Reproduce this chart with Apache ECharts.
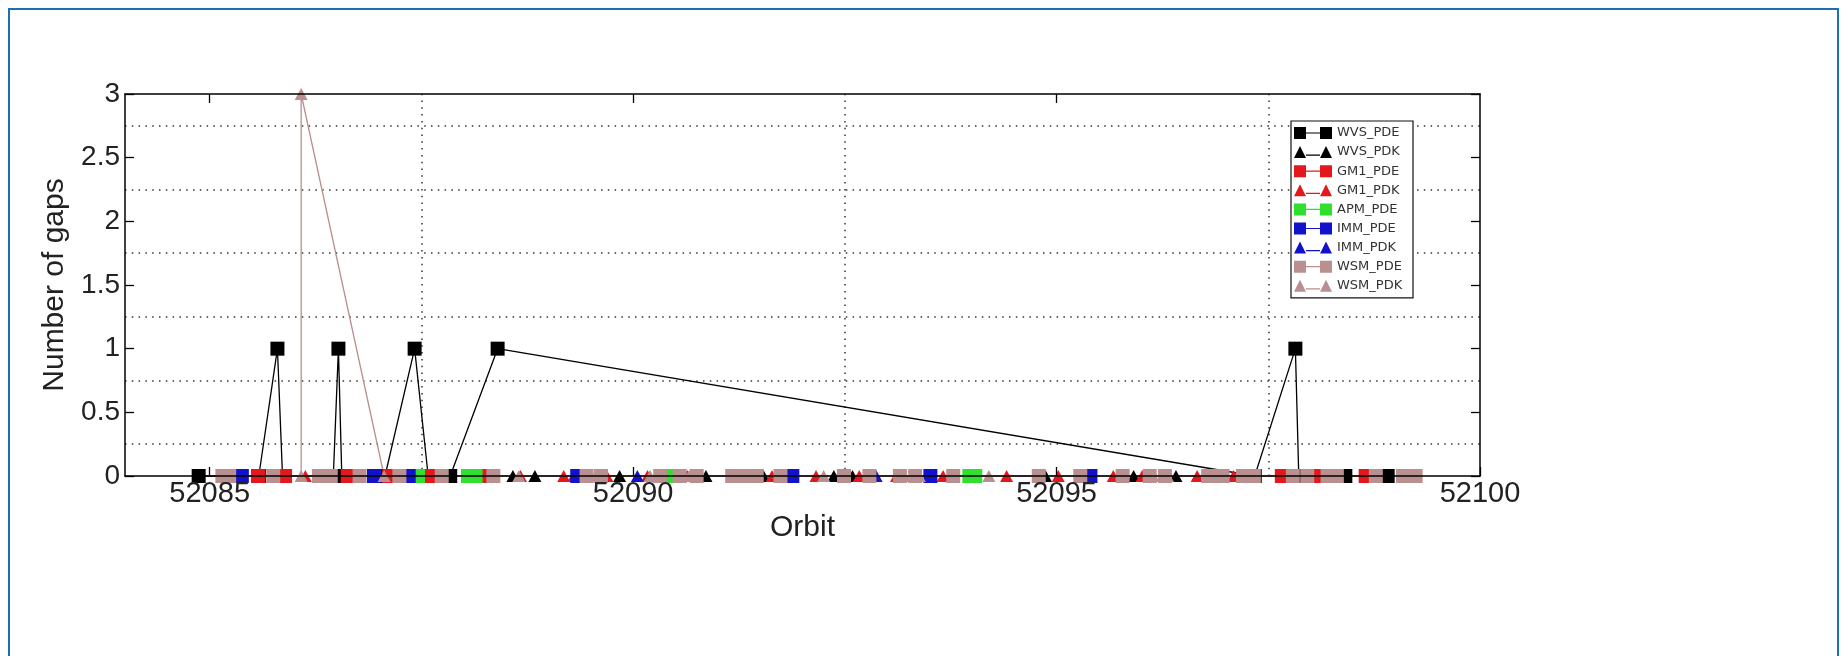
<!DOCTYPE html>
<html>
<head>
<meta charset="utf-8">
<script src="https://cdn.jsdelivr.net/npm/echarts@6/dist/echarts.min.js"></script>
<style>
html,body{margin:0;padding:0;background:#fff;}
#chart{position:absolute;left:0;top:0;width:1848px;height:656px;}
#frame{position:absolute;left:8px;top:8px;width:1831px;height:700px;border:2px solid #1f6db3;border-bottom:none;box-sizing:border-box;pointer-events:none;}
</style>
</head>
<body>
<div id="chart"></div>
<div id="frame"></div>
<script>
// ---- tick labels / grid positions ----
const orbitTicks = [52085, 52090, 52095, 52100];
const orbitTopTicks = [52085, 52090, 52095];
const gridOrbits = [52087.5, 52092.5, 52097.5];
const gridGaps = [0.25, 0.75, 1.25, 1.75, 2.25, 2.75];
const seriesNames = ['WVS_PDE','WVS_PDK','GM1_PDE','GM1_PDK','APM_PDE','IMM_PDE','IMM_PDK','WSM_PDE','WSM_PDK'];

// ---- data: [orbit, number of gaps] ----
const WVS_PDE = [[52084.87,0],[52085.58,0],[52085.80,1],[52085.86,0],[52086.46,0],[52086.52,1],[52086.56,0],
  [52087.07,0],[52087.42,1],[52087.58,0],[52087.84,0],[52088.40,1],[52097.34,0],[52097.82,1],[52097.86,0],
  [52098.11,0],[52098.41,0],[52098.91,0]];
const WVS_PDK = [[52088.58,0],[52088.84,0],[52089.84,0],[52090.86,0],[52091.54,0],[52092.37,0],[52092.59,0],
  [52094.87,0],[52095.91,0],[52096.41,0]];
const GM1_PDE = [[52085.57,0],[52085.89,0],[52086.63,0],[52087.12,0],[52087.62,0],[52088.25,0],[52097.66,0],
  [52098.08,0],[52098.65,0]];
const GM1_PDK = [[52086.13,0],[52088.67,0],[52089.18,0],[52089.30,0],[52089.69,0],[52090.17,0],[52090.30,0],
  [52090.64,0],[52091.64,0],[52092.16,0],[52092.67,0],[52093.11,0],[52093.66,0],[52094.41,0],[52095.02,0],
  [52095.67,0],[52096.01,0],[52096.66,0],[52097.09,0]];
const APM_PDE = [[52087.46,0],[52088.05,0],[52088.14,0],[52090.42,0],[52093.97,0],[52094.04,0],[52096.87,0]];
const IMM_PDE = [[52085.38,0],[52086.94,0],[52087.35,0],[52089.34,0],[52091.88,0],[52093.51,0],[52095.40,0]];
const IMM_PDK = [[52090.05,0],[52092.87,0]];
const WSM_PDE = [[52085.15,0],[52085.23,0],[52085.75,0],[52086.29,0],[52086.43,0],[52086.77,0],[52087.24,0],
  [52087.74,0],[52088.35,0],[52089.45,0],[52089.62,0],[52090.32,0],[52090.55,0],[52090.75,0],[52091.17,0],
  [52091.31,0],[52091.46,0],[52091.74,0],[52092.49,0],[52092.79,0],[52093.15,0],[52093.33,0],[52093.78,0],
  [52094.79,0],[52095.28,0],[52095.78,0],[52096.10,0],[52096.28,0],[52096.79,0],[52096.96,0],[52097.20,0],
  [52097.33,0],[52097.79,0],[52097.96,0],[52098.20,0],[52098.31,0],[52098.77,0],[52099.09,0],[52099.24,0]];
const WSM_PDK = [[52086.08,0],[52086.08,3],[52087.06,0],[52088.65,0],[52089.51,0],[52089.59,0],[52090.20,0],
  [52090.66,0],[52091.21,0],[52091.40,0],[52092.25,0],[52093.20,0],[52093.38,0],[52094.20,0],[52096.14,0],
  [52096.31,0],[52096.90,0]];

const colors = {
  black: '#000000', red: '#e3181c', green: '#2fe02f', blue: '#1212cc', tan: '#b98f8f'
};

const squareIcon = 'path://M0,0H12V12H0Z M12,5.4H26V6.6H12Z M26,0H38V12H26Z';
const triIcon = 'path://M0,12L6,0L12,12Z M12,8.4H26V9.6H12Z M26,12L32,0L38,12Z';

function mk(name, data, color, shape, extra) {
  const s = {
    name: name, type: 'line', data: data,
    symbol: shape === 'sq' ? 'rect' : 'triangle',
    symbolSize: shape === 'sq' ? 14 : [13, 12],
    showAllSymbol: true, clip: false,
    itemStyle: {color: color},
    lineStyle: {color: color, width: 1.3},
    emphasis: {disabled: true},
    animation: false
  };
  return Object.assign(s, extra || {});
}

const fontFam = '"Liberation Sans", Arial, Helvetica, sans-serif';

const series = [
  mk('WVS_PDE', WVS_PDE, colors.black, 'sq', {
    markLine: {
      silent: true, z: 1, animation: false,
      symbol: ['none', 'none'],
      label: {show: false},
      lineStyle: {color: '#333', width: 1.5, type: [1.5, 5.3]},
      emphasis: {disabled: true},
      data: gridOrbits.map(v => ({xAxis: v})).concat(gridGaps.map(v => ({yAxis: v})))
    }
  }),
  mk('WVS_PDK', WVS_PDK, colors.black, 'tri'),
  mk('GM1_PDE', GM1_PDE, colors.red, 'sq'),
  mk('GM1_PDK', GM1_PDK, colors.red, 'tri'),
  mk('APM_PDE', APM_PDE, colors.green, 'sq'),
  mk('IMM_PDE', IMM_PDE, colors.blue, 'sq'),
  mk('IMM_PDK', IMM_PDK, colors.blue, 'tri'),
  mk('WSM_PDE', WSM_PDE, colors.tan, 'sq'),
  mk('WSM_PDK', WSM_PDK, colors.tan, 'tri')
];

const chart = echarts.init(document.getElementById('chart'), null, {renderer: 'canvas'});
chart.setOption({
  animation: false,
  backgroundColor: 'transparent',
  grid: {left: 125, right: 368, top: 94, bottom: 180, containLabel: false},
  legend: {
    orient: 'vertical', left: 1291, top: 121,
    padding: [5, 6, 5, 3],
    backgroundColor: '#fff', borderColor: '#111', borderWidth: 1.2,
    itemWidth: 38, itemHeight: 12, itemGap: 5.1,
    selectedMode: false,
    textStyle: {fontSize: 13, color: '#333', fontFamily: '"DejaVu Sans", sans-serif', lineHeight: 14, width: 70},
    data: seriesNames.map(n => ({name: n, icon: n.endsWith('PDE') ? squareIcon : triIcon}))
  },
  xAxis: [{
    type: 'value', min: 52084, max: 52100, position: 'bottom', z: 10,
    axisLine: {show: true, onZero: false, lineStyle: {color: '#000', width: 1.5}},
    axisTick: {show: true, inside: true, length: 9, customValues: orbitTicks, lineStyle: {color: '#000', width: 1.3}},
    axisLabel: {show: true, customValues: orbitTicks, fontSize: 29, color: '#222', fontFamily: fontFam, margin: 3,
      formatter: v => String(Math.round(v))},
    splitLine: {show: false},
    name: 'Orbit', nameLocation: 'middle', nameGap: 32,
    nameTextStyle: {fontSize: 30, color: '#222', fontFamily: fontFam}
  }, {
    type: 'value', min: 52084, max: 52100, position: 'top', z: 10,
    axisLine: {show: true, onZero: false, lineStyle: {color: '#000', width: 1.5}},
    axisTick: {show: true, inside: true, length: 9, customValues: orbitTopTicks, lineStyle: {color: '#000', width: 1.3}},
    axisLabel: {show: false},
    splitLine: {show: false}
  }],
  yAxis: [{
    type: 'value', min: 0, max: 3, interval: 0.5, position: 'left', z: 10,
    axisLine: {show: true, onZero: false, lineStyle: {color: '#000', width: 1.5}},
    axisTick: {show: true, inside: true, length: 9, lineStyle: {color: '#000', width: 1.3}},
    axisLabel: {show: true, fontSize: 28, color: '#222', fontFamily: fontFam, margin: 5},
    splitLine: {show: false},
    name: 'Number of gaps', nameLocation: 'middle', nameGap: 52,
    nameTextStyle: {fontSize: 30, color: '#222', fontFamily: fontFam}
  }, {
    type: 'value', min: 0, max: 3, interval: 0.5, position: 'right', z: 10,
    axisLine: {show: true, onZero: false, lineStyle: {color: '#000', width: 1.5}},
    axisTick: {show: true, inside: true, length: 9, lineStyle: {color: '#000', width: 1.3}},
    axisLabel: {show: false},
    splitLine: {show: false}
  }],
  series: series
});
</script>
</body>
</html>
